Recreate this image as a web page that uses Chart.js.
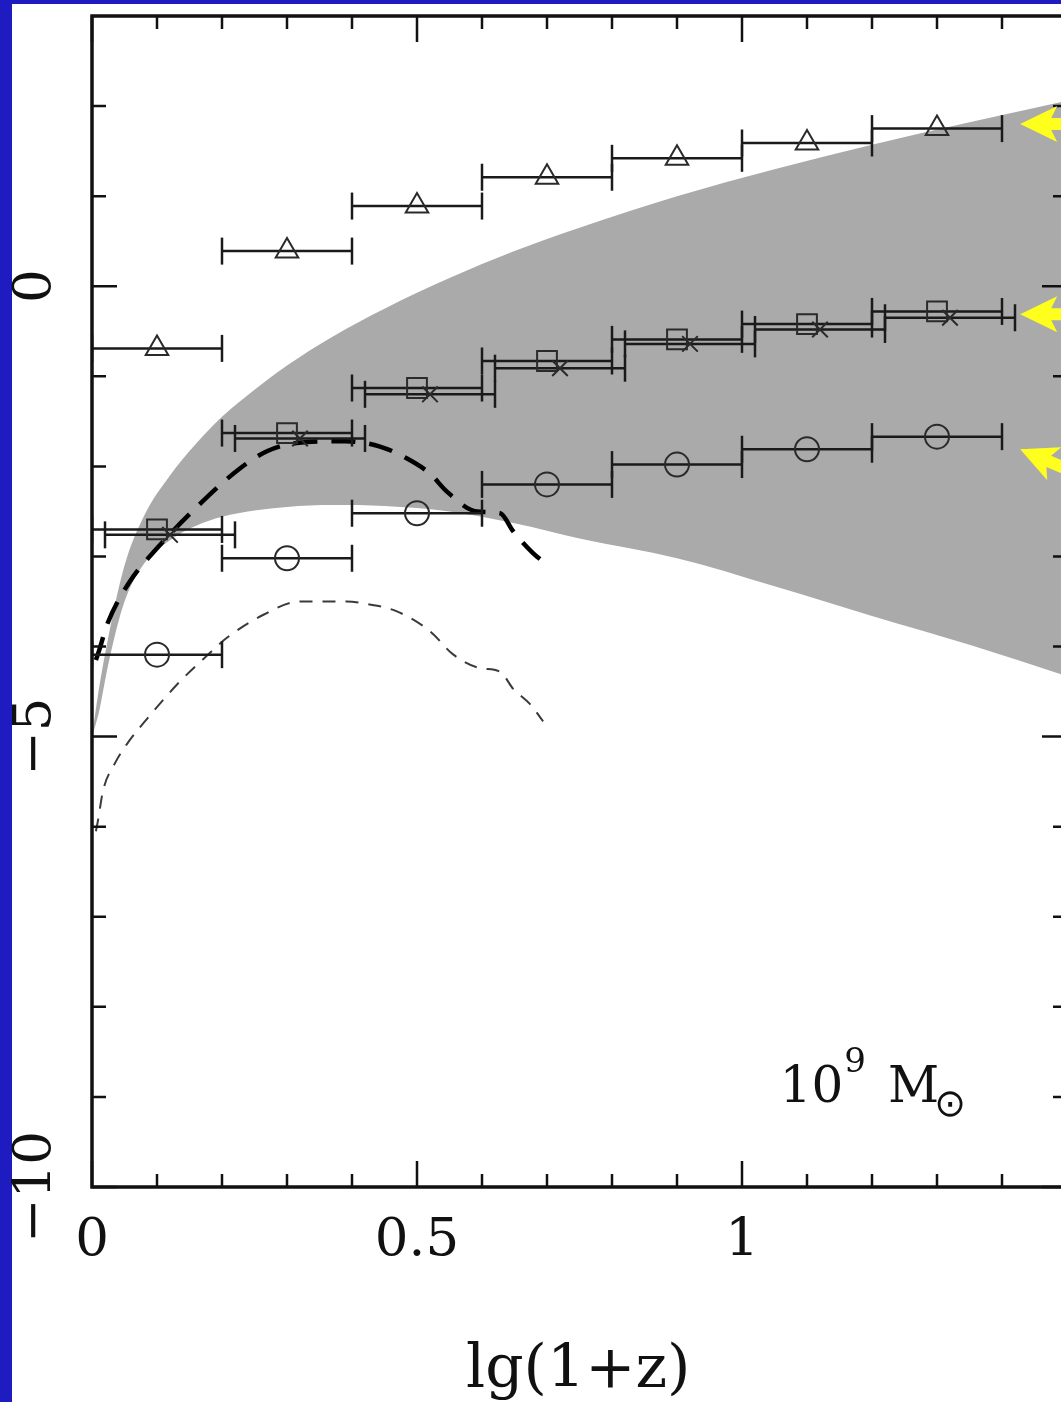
<!DOCTYPE html>
<html>
<head>
<meta charset="utf-8">
<script src="https://cdn.jsdelivr.net/npm/chart.js@4.4.1/dist/chart.umd.min.js"></script>
<style>
  html, body { margin: 0; padding: 0; width: 1061px; height: 1402px; overflow: hidden; background: #1e1bc0; }
  .paper { position: absolute; left: 12px; top: 4px; width: 1100px; height: 1402px; background: #fff; }
  .wrap { position: absolute; left: 0; top: 0; width: 1100px; height: 1402px; }
</style>
</head>
<body>
<div class="paper"></div>
<div class="wrap"><canvas id="myChart" width="1100" height="1402"></canvas></div>
<script>
// redshift bins, lg(1+z)
const binLo = [0, 0.2, 0.4, 0.6, 0.8, 1.0, 1.2]
const binHi = [0.2, 0.4, 0.6, 0.8, 1.0, 1.2, 1.4]
const binMid = [0.1, 0.3, 0.5, 0.7, 0.9, 1.1, 1.3]
// the x points sit on bins shifted a bit to the right
const crossLo = [0.02, 0.22, 0.42, 0.62, 0.82, 1.02, 1.22]
const crossHi = [0.22, 0.42, 0.62, 0.82, 1.02, 1.22, 1.42]
const crossMid = [0.12, 0.32, 0.52, 0.72, 0.92, 1.12, 1.32]

const triangleY = [-0.69, 0.39, 0.89, 1.21, 1.42, 1.59, 1.75]
const squareY = [-2.70, -1.63, -1.13, -0.83, -0.59, -0.42, -0.28]
const crossY = [-2.76, -1.69, -1.20, -0.91, -0.64, -0.48, -0.35]
const circleY = [-4.09, -3.02, -2.52, -2.20, -1.98, -1.81, -1.67]

// grey band
const bandX = [0, 0.01, 0.025, 0.05, 0.08, 0.12, 0.16, 0.2, 0.25, 0.3, 0.37, 0.45, 0.55, 0.65, 0.75, 0.9, 1.05, 1.2, 1.35, 1.5]
const bandTop = [-5.0, -4.5, -3.9, -3.1, -2.55, -2.1, -1.75, -1.45, -1.15, -0.88, -0.56, -0.25, 0.09, 0.39, 0.65, 1.0, 1.3, 1.57, 1.82, 2.06]
const bandBottom = [-5.0, -4.75, -4.2, -3.5, -3.08, -2.82, -2.66, -2.56, -2.49, -2.45, -2.43, -2.44, -2.5, -2.63, -2.8, -3.02, -3.33, -3.66, -3.98, -4.33]

// thick dashed curve
const thickX = [0.006, 0.012, 0.023, 0.058, 0.1, 0.16, 0.228, 0.27, 0.315, 0.39, 0.443, 0.484, 0.52, 0.546, 0.592, 0.628, 0.648, 0.678, 0.7]
const thickY = [-4.15, -4.02, -3.76, -3.28, -2.91, -2.46, -2.02, -1.83, -1.74, -1.72, -1.78, -1.91, -2.08, -2.28, -2.5, -2.52, -2.72, -2.96, -3.09]

// thin dashed curve
const thinX = [0.006, 0.009, 0.017, 0.035, 0.054, 0.085, 0.135, 0.177, 0.208, 0.263, 0.32, 0.392, 0.417, 0.469, 0.52, 0.556, 0.597, 0.628, 0.648, 0.674, 0.694]
const thinY = [-6.05, -5.94, -5.6, -5.3, -5.08, -4.8, -4.39, -4.1, -3.9, -3.65, -3.5, -3.5, -3.52, -3.61, -3.83, -4.09, -4.24, -4.28, -4.47, -4.64, -4.83]

// axes
const xMajor = [0, 0.5, 1, 1.5]
const xTickLabels = ['0', '0.5', '1']
const xMinor = [0.1, 0.2, 0.3, 0.4, 0.6, 0.7, 0.8, 0.9, 1.1, 1.2, 1.3, 1.4]
const yMajor = [0, -5, -10]
const yTickLabels = ['0', '\u22125', '\u221210']
const yMinor = [2, 1, -1, -2, -3, -4, -6, -7, -8, -9]

// yellow arrows: tip position and direction (degrees, tail side)
const arrowTipX = [1.428, 1.428, 1.428]
const arrowTipY = [1.80, -0.31, -1.81]
const arrowAngle = [0, 0, 23]

const SERIF = "'DejaVu Serif', 'Liberation Serif', serif"

function pts(xs, ys) {
  return ys.map((v, i) => ({x: xs[i], y: v}))
}

function barPoints(lo, hi, vals) {
  let out = []
  vals.forEach((v, i) => {
    out.push({x: lo[i], y: v}, {x: hi[i], y: v}, {x: hi[i], y: null})
  })
  return out
}

function barSet(data) {
  return {
    data: data, borderColor: '#1a1a1a', borderWidth: 2.5, fill: false,
    pointStyle: 'line', pointRotation: 90, pointRadius: 13.5,
    pointBorderWidth: 2.5, pointBorderColor: '#1a1a1a', order: 5
  }
}

function markSet(data, style, r) {
  return {
    data: data, showLine: false, pointStyle: style, pointRadius: r,
    pointBorderWidth: 2, pointBorderColor: '#2a2a2a',
    pointBackgroundColor: 'rgba(0,0,0,0)', order: 1
  }
}

function curveSet(data, color, width, dash) {
  return {
    data: data, borderColor: color, borderWidth: width, borderDash: dash,
    pointRadius: 0, fill: false, cubicInterpolationMode: 'monotone', order: 10
  }
}

const frame = {
  id: 'frame',
  afterDraw(chart) {
    const {ctx, chartArea: a, scales: {x, y}} = chart
    ctx.save()
    ctx.strokeStyle = '#111'
    ctx.lineWidth = 3.5
    ctx.strokeRect(a.left, a.top, a.right - a.left, a.bottom - a.top)
    ctx.lineWidth = 2.5
    ctx.beginPath()
    xMajor.concat(xMinor).forEach(v => {
      const px = x.getPixelForValue(v)
      const len = xMajor.includes(v) ? 26 : 13
      ctx.moveTo(px, a.bottom); ctx.lineTo(px, a.bottom - len)
      ctx.moveTo(px, a.top); ctx.lineTo(px, a.top + len)
    })
    yMajor.concat(yMinor).forEach(v => {
      const py = y.getPixelForValue(v)
      const len = yMajor.includes(v) ? 25 : 14
      ctx.moveTo(a.left, py); ctx.lineTo(a.left + len, py)
      ctx.moveTo(a.right, py); ctx.lineTo(a.right - len, py)
    })
    ctx.stroke()

    // tick labels
    ctx.fillStyle = '#111'
    ctx.font = '53px ' + SERIF
    ctx.textAlign = 'center'
    ctx.textBaseline = 'middle'
    xTickLabels.forEach((t, i) => {
      ctx.fillText(t, x.getPixelForValue(xMajor[i]), a.bottom + 54)
    })
    yTickLabels.forEach((t, i) => {
      ctx.save()
      ctx.translate(a.left - 56, y.getPixelForValue(yMajor[i]))
      ctx.rotate(-Math.PI / 2)
      ctx.fillText(t, 0, 0)
      ctx.restore()
    })

    // axis title
    ctx.font = '60px ' + SERIF
    ctx.textBaseline = 'alphabetic'
    ctx.fillText('lg(1+z)', x.getPixelForValue(0.748), a.bottom + 200)

    // mass label
    ctx.textAlign = 'left'
    let lx = x.getPixelForValue(1.058)
    const ly = y.getPixelForValue(-9.06)
    ctx.font = '50px ' + SERIF
    ctx.fillText('10', lx, ly)
    lx += ctx.measureText('10').width + 1
    ctx.font = '34px ' + SERIF
    ctx.fillText('9', lx, ly - 30)
    lx += ctx.measureText('9').width + 22
    ctx.font = '50px ' + SERIF
    ctx.fillText('M', lx, ly)
    lx += ctx.measureText('M').width
    ctx.font = '38px DejaVu Sans'
    ctx.fillText('\u2299', lx - 5, ly + 14)

    // yellow arrows
    ctx.fillStyle = '#ffff1e'
    arrowTipX.forEach((tx, i) => {
      const px = x.getPixelForValue(tx)
      const py = y.getPixelForValue(arrowTipY[i])
      ctx.save()
      ctx.translate(px, py)
      ctx.rotate(arrowAngle[i] * Math.PI / 180)
      ctx.beginPath()
      ctx.moveTo(0, 0)
      ctx.lineTo(37, -18)
      ctx.lineTo(31, -6)
      ctx.lineTo(90, -6)
      ctx.lineTo(90, 6)
      ctx.lineTo(31, 6)
      ctx.lineTo(37, 18)
      ctx.closePath()
      ctx.fill()
      ctx.restore()
    })
    ctx.restore()
  }
}

const ctx = document.getElementById('myChart')
const myChart = new Chart(ctx, {
  type: 'line',
  data: {
    datasets: [
      { data: pts(bandX, bandTop), borderWidth: 0, borderColor: 'rgba(0,0,0,0)', pointRadius: 0,
        fill: '+1', backgroundColor: '#aaaaaa', cubicInterpolationMode: 'monotone', order: 20 },
      { data: pts(bandX, bandBottom), borderWidth: 0, borderColor: 'rgba(0,0,0,0)', pointRadius: 0,
        fill: false, cubicInterpolationMode: 'monotone', order: 21 },
      curveSet(pts(thinX, thinY), '#3a3a3a', 2, [13, 10]),
      curveSet(pts(thickX, thickY), '#000', 4.5, [24, 14]),
      barSet(barPoints(binLo, binHi, triangleY)),
      barSet(barPoints(binLo, binHi, squareY)),
      barSet(barPoints(crossLo, crossHi, crossY)),
      barSet(barPoints(binLo, binHi, circleY)),
      markSet(pts(binMid, triangleY), 'triangle', 13),
      markSet(pts(binMid, squareY), 'rect', 14),
      markSet(pts(crossMid, crossY), 'crossRot', 11),
      markSet(pts(binMid, circleY), 'circle', 12)
    ]
  },
  options: {
    responsive: false,
    animation: false,
    events: [],
    layout: { padding: { left: 92, top: 15, right: 33, bottom: 215 } },
    plugins: { legend: { display: false }, tooltip: { enabled: false } },
    scales: {
      x: { type: 'linear', min: 0, max: 1.5, display: false },
      y: { type: 'linear', min: -10, max: 3, display: false }
    }
  },
  plugins: [frame]
})
</script>
</body>
</html>
